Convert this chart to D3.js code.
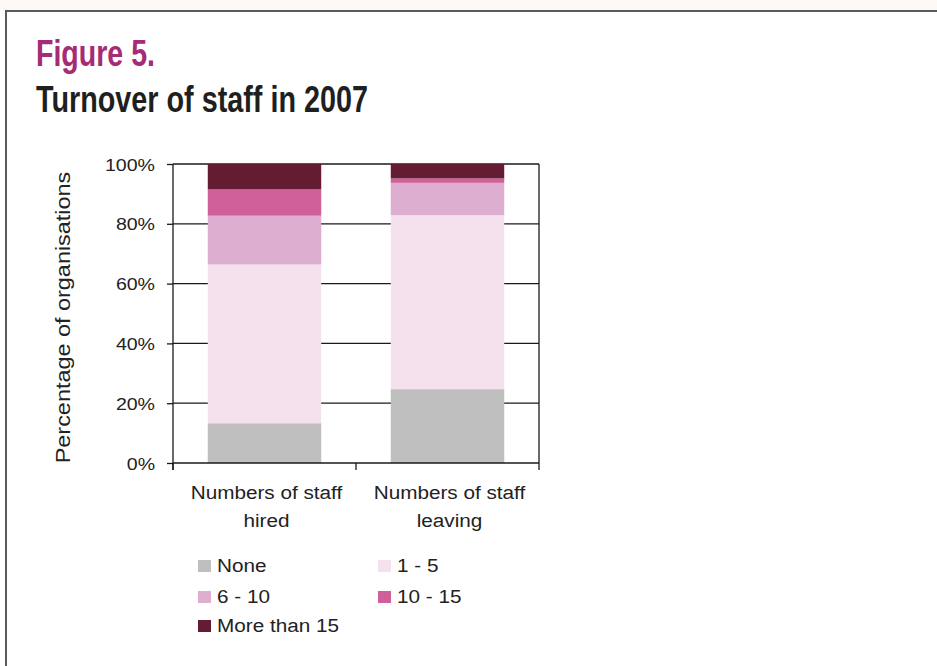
<!DOCTYPE html>
<html>
<head>
<meta charset="utf-8">
<script src="https://cdn.jsdelivr.net/npm/d3@7"></script>
<style>
  html, body { margin: 0; padding: 0; background: #ffffff; }
  svg { display: block; }
  text { font-family: "Liberation Sans", Arial, sans-serif; }
</style>
</head>
<body>
<svg id="chart" width="937" height="666"></svg>
<script>
// Turnover of staff in 2007: share of organisations by number of staff hired / leaving
const categories = ["Numbers of staff hired", "Numbers of staff leaving"];
const categoryLines = [["Numbers of staff", "hired"], ["Numbers of staff", "leaving"]];
const seriesNames = ["None", "1 - 5", "6 - 10", "10 - 15", "More than 15"];
const seriesColors = ["#bfbfbf", "#f5e1ee", "#deaed0", "#d0609a", "#641c32"];
const noneValues = [13.3, 24.7];
const oneToFiveValues = [53.1, 58.2];
const sixToTenValues = [16.3, 10.8];
const tenToFifteenValues = [8.8, 1.5];
const moreThanFifteenValues = [8.5, 4.8];
const yTicks = [0, 20, 40, 60, 80, 100];

const seriesValues = [noneValues, oneToFiveValues, sixToTenValues, tenToFifteenValues, moreThanFifteenValues];
const table = categories.map((c, i) => {
  const row = { category: c };
  seriesNames.forEach((s, j) => { row[s] = seriesValues[j][i]; });
  return row;
});

// widen text runs a little (the chart's labels are set slightly extended)
const WIDEN = 1.15;
function widen(sel, factor) {
  sel.each(function () {
    const w = this.getComputedTextLength();
    d3.select(this).attr("textLength", w * factor).attr("lengthAdjust", "spacingAndGlyphs");
  });
}

const svg = d3.select("#chart");

// page frame
svg.append("rect").attr("x", 0).attr("y", 0).attr("width", 937).attr("height", 10).attr("fill", "#fbf8f5");
svg.append("path")
  .attr("d", "M6,666 V11 H937")
  .attr("fill", "none").attr("stroke", "#5a5a5a").attr("stroke-width", 2);

// headings
svg.append("text")
  .attr("x", 36).attr("y", 66)
  .attr("font-family", "'Liberation Sans Narrow', 'DejaVu Sans Condensed', sans-serif")
  .attr("font-weight", "bold").attr("font-size", 37)
  .attr("textLength", 119).attr("lengthAdjust", "spacingAndGlyphs")
  .attr("fill", "#a62a76")
  .text("Figure 5.");
svg.append("text")
  .attr("x", 36).attr("y", 112)
  .attr("font-family", "'Liberation Sans Narrow', 'DejaVu Sans Condensed', sans-serif")
  .attr("font-weight", "bold").attr("font-size", 37)
  .attr("textLength", 332).attr("lengthAdjust", "spacingAndGlyphs")
  .attr("fill", "#1f1f1f")
  .text("Turnover of staff in 2007");

// plot area
const plotLeft = 173, plotRight = 539, plotTop = 164, plotBottom = 463;
const x = d3.scaleBand().domain(categories).range([plotLeft, plotRight]).paddingInner(0.38).paddingOuter(0.19);
const y = d3.scaleLinear().domain([0, 100]).range([plotBottom, plotTop]);

const g = svg.append("g");

// gridlines
g.selectAll(".grid").data(yTicks.filter(t => t > 0)).join("line")
  .attr("x1", plotLeft).attr("x2", plotRight)
  .attr("y1", d => y(d)).attr("y2", d => y(d))
  .attr("stroke", "#1a1a1a").attr("stroke-width", 1.3);

// stacked bars
const stack = d3.stack().keys(seriesNames);
const layers = stack(table);
g.selectAll(".layer").data(layers).join("g")
  .attr("fill", (d, i) => seriesColors[i])
  .selectAll("rect").data(d => d).join("rect")
  .attr("x", d => x(d.data.category))
  .attr("width", x.bandwidth())
  .attr("y", d => y(d[1]))
  .attr("height", d => y(d[0]) - y(d[1]));

// right border of plot area
g.append("line").attr("x1", plotRight).attr("x2", plotRight).attr("y1", plotTop).attr("y2", plotBottom)
  .attr("stroke", "#1a1a1a").attr("stroke-width", 1.3);

// y axis
const yAxis = d3.axisLeft(y).tickValues(yTicks).tickFormat(d => d + "%").tickSize(6).tickPadding(12);
const ya = svg.append("g").attr("transform", `translate(${plotLeft},0)`).call(yAxis);
ya.attr("font-family", null).attr("font-size", null);
ya.select(".domain").attr("stroke", "#1a1a1a").attr("stroke-width", 1.3).attr("d", `M0,${plotTop}V${plotBottom + 7}`);
ya.selectAll(".tick line").attr("stroke", "#1a1a1a").attr("stroke-width", 1.3);
ya.selectAll(".tick text").attr("font-size", 17).attr("fill", "#222").attr("dy", "0.36em");
widen(ya.selectAll(".tick text"), WIDEN);

// x axis: category boundaries ticked below
const xa = svg.append("g");
xa.append("line").attr("x1", plotLeft).attr("x2", plotRight).attr("y1", plotBottom).attr("y2", plotBottom)
  .attr("stroke", "#1a1a1a").attr("stroke-width", 1.3);
const boundaries = [plotLeft, ...categories.slice(1).map(c => x(c) - x.step() * x.paddingInner() / 2), plotRight];
xa.selectAll(".xt").data(boundaries).join("line")
  .attr("x1", d => d).attr("x2", d => d).attr("y1", plotBottom).attr("y2", plotBottom + 7)
  .attr("stroke", "#1a1a1a").attr("stroke-width", 1.3);
categories.forEach((c, i) => {
  const cx = x(c) + x.bandwidth() / 2 + 2;
  categoryLines[i].forEach((line, k) => {
    const t = xa.append("text")
      .attr("x", cx).attr("y", 499 + k * 28)
      .attr("text-anchor", "middle").attr("font-size", 18).attr("fill", "#222")
      .text(line);
    widen(t, WIDEN);
  });
});

// y axis title
const yTitle = svg.append("text")
  .attr("transform", `translate(70,${(plotTop + plotBottom) / 2 + 4}) rotate(-90)`)
  .attr("text-anchor", "middle").attr("font-size", 20).attr("fill", "#222")
  .text("Percentage of organisations");
widen(yTitle, 1.115 * 21 / 20);

// legend
const legendPos = [[198, 572], [378, 572], [198, 603], [378, 603], [198, 632]];
const lg = svg.append("g");
seriesNames.forEach((s, i) => {
  const [lx, ly] = legendPos[i];
  lg.append("rect").attr("x", lx).attr("y", ly - 12).attr("width", 13).attr("height", 12).attr("fill", seriesColors[i]);
  const t = lg.append("text").attr("x", lx + 19).attr("y", ly).attr("font-size", 18).attr("fill", "#222").text(s);
  widen(t, WIDEN);
});
</script>
</body>
</html>
